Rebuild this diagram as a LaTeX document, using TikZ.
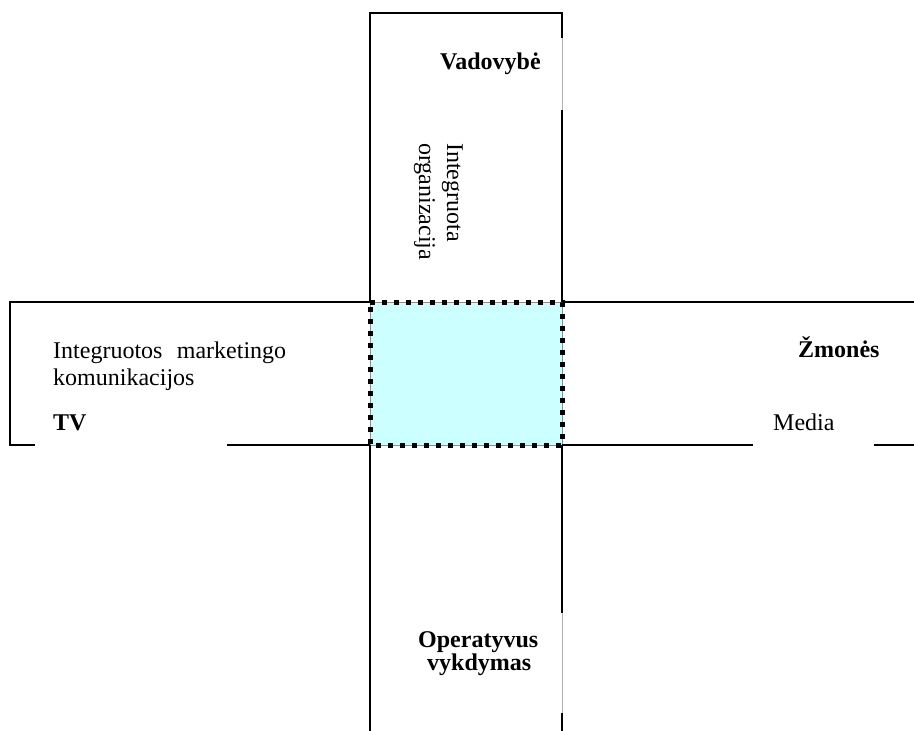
\documentclass[tikz,border=0pt]{standalone}
\usepackage{fontspec}
\setmainfont{Liberation Serif}
\begin{document}
\begin{tikzpicture}[x=1pt,y=-1pt,
  edge/.style={line width=1.8pt,black},
  thinedge/.style={line width=0.8pt,black!30},
  lbl/.style={inner sep=0pt,anchor=base west,font=\fontsize{24}{28}\selectfont},
  blbl/.style={lbl,font=\fontsize{24}{28}\selectfont\bfseries},
  dotbox/.style={line width=5pt,dash pattern=on 5pt off 7pt,line cap=butt}
]
\useasboundingbox (0,0) rectangle (914,731);
% centre
\fill[fill={rgb,255:red,204;green,255;blue,255}] (370,302) rectangle (562,445);
\draw[line width=0.8pt,black!45] (370,302) rectangle (562,445);
% top box
\draw[edge] (370,302) -- (370,13) -- (562,13) -- (562,38);
\draw[thinedge] (562,38) -- (562,110);
\draw[edge] (562,110) -- (562,302);
% left box
\draw[edge] (370,302) -- (10,302) -- (10,445) -- (35,445);
\draw[edge] (227,445) -- (370,445);
% right box
\draw[edge] (562,302) -- (914,302);
\draw[edge] (562,445) -- (753,445);
\draw[edge] (874,445) -- (914,445);
% bottom box
\draw[edge] (370,445) -- (370,731);
\draw[edge] (562,445) -- (562,613);
\draw[thinedge] (562,613) -- (562,713);
\draw[edge] (562,713) -- (562,731);
% dotted border
\draw[dotbox] (370,302) -- (562,302) -- (562,445) -- (370,445) -- cycle;
% texts
\node[blbl] (vad) at (440,69) {Vadovybė};
\node[lbl,rotate=-90] (io1) at (447,143) {Integruota};
\node[lbl,rotate=-90] (io2) at (419,143) {organizacija};
\node[lbl] (imk1) at (53,358) {Integruotos\hspace{0.6em}marketingo};
\node[lbl] (imk2) at (53,385) {komunikacijos};
\node[blbl] (tv) at (53,430) {TV};
\node[blbl] (zm) at (798,357) {Žmonės};
\node[lbl] (med) at (773,430) {Media};
\node[blbl] (op1) at (418,647) {Operatyvus};
\node[blbl] (op2) at (427,670) {vykdymas};
\end{tikzpicture}
\end{document}
